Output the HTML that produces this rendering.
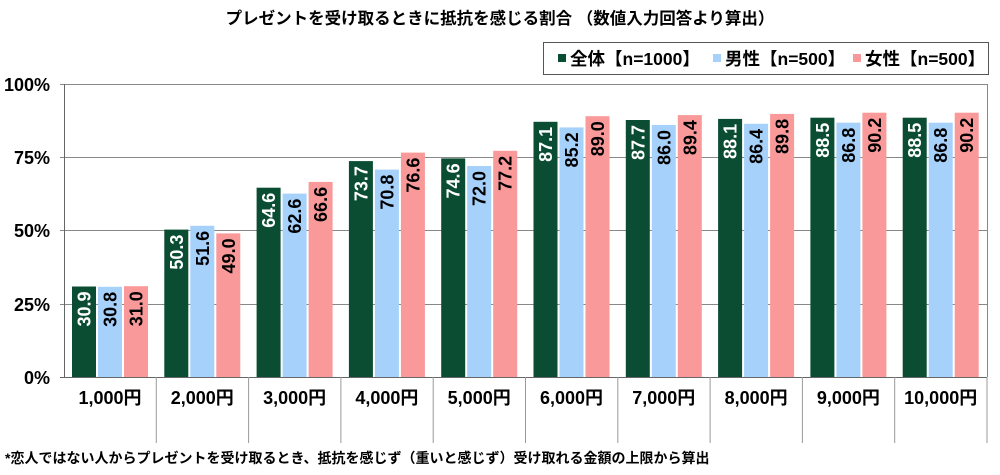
<!DOCTYPE html>
<html><head><meta charset="utf-8"><style>
html,body{margin:0;padding:0;background:#fff;}
svg{display:block;font-family:"Liberation Sans","Noto Sans CJK JP",sans-serif;}
.g{fill:#0b4d32}.b{fill:#a6d1fb}.p{fill:#fa9999}
.v{font-size:18px;font-weight:bold;text-anchor:end}
.w{fill:#fff}
.c{font-size:18px;font-weight:bold;text-anchor:middle}
</style></head><body>
<svg width="1000" height="475" viewBox="0 0 1000 475" xmlns="http://www.w3.org/2000/svg">
<text x="500" y="24" text-anchor="middle" font-size="16.5" font-weight="bold" fill="#000">プレゼントを受け取るときに抵抗を感じる割合 （数値入力回答より算出）</text>
<rect x="543.5" y="42.5" width="445" height="32" fill="#fff" stroke="#555" stroke-width="1"/>
<rect x="558" y="54" width="8" height="8" fill="#0b4d32"/>
<text x="570" y="65" font-size="17.5" font-weight="bold">全体【n=1000】</text>
<rect x="713" y="54" width="8" height="8" fill="#a6d1fb"/>
<text x="725" y="65" font-size="17.5" font-weight="bold">男性【n=500】</text>
<rect x="853" y="54" width="8" height="8" fill="#fa9999"/>
<text x="865" y="65" font-size="17.5" font-weight="bold">女性【n=500】</text>
<g stroke="#888" stroke-width="1">
<line x1="60" y1="84.5" x2="987" y2="84.5"/>
<line x1="60" y1="157.5" x2="987" y2="157.5"/>
<line x1="60" y1="230.5" x2="987" y2="230.5"/>
<line x1="60" y1="304.5" x2="987" y2="304.5"/>
<line x1="987.5" y1="84" x2="987.5" y2="377"/>
</g>
<g font-size="18" font-weight="bold" text-anchor="end">
<text x="50" y="91">100%</text>
<text x="50" y="164">75%</text>
<text x="50" y="237">50%</text>
<text x="50" y="311">25%</text>
<text x="50" y="384">0%</text>
</g>

<rect class="g" x="72" y="286.5" width="24" height="90.5"/><text class="v w" x="90.5" y="291.5" transform="rotate(-90 90.5 291.5)">30.9</text>
<rect class="b" x="98" y="286.8" width="24" height="90.2"/><text class="v" x="116.5" y="291.8" transform="rotate(-90 116.5 291.8)">30.8</text>
<rect class="p" x="124" y="286.2" width="24" height="90.8"/><text class="v" x="142.5" y="291.2" transform="rotate(-90 142.5 291.2)">31.0</text>

<rect class="g" x="164.3" y="229.6" width="24" height="147.4"/><text class="v w" x="182.8" y="234.6" transform="rotate(-90 182.8 234.6)">50.3</text>
<rect class="b" x="190.3" y="225.8" width="24" height="151.2"/><text class="v" x="208.8" y="230.8" transform="rotate(-90 208.8 230.8)">51.6</text>
<rect class="p" x="216.3" y="233.4" width="24" height="143.6"/><text class="v" x="234.8" y="238.4" transform="rotate(-90 234.8 238.4)">49.0</text>

<rect class="g" x="256.6" y="187.7" width="24" height="189.3"/><text class="v w" x="275.1" y="192.7" transform="rotate(-90 275.1 192.7)">64.6</text>
<rect class="b" x="282.6" y="193.6" width="24" height="183.4"/><text class="v" x="301.1" y="198.6" transform="rotate(-90 301.1 198.6)">62.6</text>
<rect class="p" x="308.6" y="181.9" width="24" height="195.1"/><text class="v" x="327.1" y="186.9" transform="rotate(-90 327.1 186.9)">66.6</text>

<rect class="g" x="348.9" y="161.1" width="24" height="215.9"/><text class="v w" x="367.4" y="166.1" transform="rotate(-90 367.4 166.1)">73.7</text>
<rect class="b" x="374.9" y="169.6" width="24" height="207.4"/><text class="v" x="393.4" y="174.6" transform="rotate(-90 393.4 174.6)">70.8</text>
<rect class="p" x="400.9" y="152.6" width="24" height="224.4"/><text class="v" x="419.4" y="157.6" transform="rotate(-90 419.4 157.6)">76.6</text>

<rect class="g" x="441.2" y="158.4" width="24" height="218.6"/><text class="v w" x="459.7" y="163.4" transform="rotate(-90 459.7 163.4)">74.6</text>
<rect class="b" x="467.2" y="166" width="24" height="211"/><text class="v" x="485.7" y="171" transform="rotate(-90 485.7 171)">72.0</text>
<rect class="p" x="493.2" y="150.8" width="24" height="226.2"/><text class="v" x="511.7" y="155.8" transform="rotate(-90 511.7 155.8)">77.2</text>

<rect class="g" x="533.5" y="121.8" width="24" height="255.2"/><text class="v w" x="552" y="126.8" transform="rotate(-90 552 126.8)">87.1</text>
<rect class="b" x="559.5" y="127.4" width="24" height="249.6"/><text class="v" x="578" y="132.4" transform="rotate(-90 578 132.4)">85.2</text>
<rect class="p" x="585.5" y="116.2" width="24" height="260.8"/><text class="v" x="604" y="121.2" transform="rotate(-90 604 121.2)">89.0</text>

<rect class="g" x="625.8" y="120" width="24" height="257"/><text class="v w" x="644.3" y="125" transform="rotate(-90 644.3 125)">87.7</text>
<rect class="b" x="651.8" y="125" width="24" height="252"/><text class="v" x="670.3" y="130" transform="rotate(-90 670.3 130)">86.0</text>
<rect class="p" x="677.8" y="115.1" width="24" height="261.9"/><text class="v" x="696.3" y="120.1" transform="rotate(-90 696.3 120.1)">89.4</text>

<rect class="g" x="718.1" y="118.9" width="24" height="258.1"/><text class="v w" x="736.6" y="123.9" transform="rotate(-90 736.6 123.9)">88.1</text>
<rect class="b" x="744.1" y="123.8" width="24" height="253.2"/><text class="v" x="762.6" y="128.8" transform="rotate(-90 762.6 128.8)">86.4</text>
<rect class="p" x="770.1" y="113.9" width="24" height="263.1"/><text class="v" x="788.6" y="118.9" transform="rotate(-90 788.6 118.9)">89.8</text>

<rect class="g" x="810.4" y="117.7" width="24" height="259.3"/><text class="v w" x="828.9" y="122.7" transform="rotate(-90 828.9 122.7)">88.5</text>
<rect class="b" x="836.4" y="122.7" width="24" height="254.3"/><text class="v" x="854.9" y="127.7" transform="rotate(-90 854.9 127.7)">86.8</text>
<rect class="p" x="862.4" y="112.7" width="24" height="264.3"/><text class="v" x="880.9" y="117.7" transform="rotate(-90 880.9 117.7)">90.2</text>

<rect class="g" x="902.7" y="117.7" width="24" height="259.3"/><text class="v w" x="921.2" y="122.7" transform="rotate(-90 921.2 122.7)">88.5</text>
<rect class="b" x="928.7" y="122.7" width="24" height="254.3"/><text class="v" x="947.2" y="127.7" transform="rotate(-90 947.2 127.7)">86.8</text>
<rect class="p" x="954.7" y="112.7" width="24" height="264.3"/><text class="v" x="973.2" y="117.7" transform="rotate(-90 973.2 117.7)">90.2</text>

<line x1="64.5" y1="84" x2="64.5" y2="377" stroke="#666"/>
<line x1="60" y1="377.5" x2="987" y2="377.5" stroke="#666"/>
<g stroke="#999">
<line x1="156.3" y1="377" x2="156.3" y2="443"/>
<line x1="248.6" y1="377" x2="248.6" y2="443"/>
<line x1="340.9" y1="377" x2="340.9" y2="443"/>
<line x1="433.2" y1="377" x2="433.2" y2="443"/>
<line x1="525.5" y1="377" x2="525.5" y2="443"/>
<line x1="617.8" y1="377" x2="617.8" y2="443"/>
<line x1="710.1" y1="377" x2="710.1" y2="443"/>
<line x1="802.4" y1="377" x2="802.4" y2="443"/>
<line x1="894.7" y1="377" x2="894.7" y2="443"/>
<line x1="987" y1="377" x2="987" y2="443"/>
</g>
<text class="c" x="110" y="404">1,000円</text>
<text class="c" x="202.3" y="404">2,000円</text>
<text class="c" x="294.6" y="404">3,000円</text>
<text class="c" x="386.9" y="404">4,000円</text>
<text class="c" x="479.2" y="404">5,000円</text>
<text class="c" x="571.5" y="404">6,000円</text>
<text class="c" x="663.8" y="404">7,000円</text>
<text class="c" x="756.1" y="404">8,000円</text>
<text class="c" x="848.4" y="404">9,000円</text>
<text class="c" x="940.7" y="404">10,000円</text>
<text x="5" y="463" font-size="14" font-weight="bold">*恋人ではない人からプレゼントを受け取るとき、抵抗を感じず（重いと感じず）受け取れる金額の上限から算出</text>
</svg>
</body></html>
